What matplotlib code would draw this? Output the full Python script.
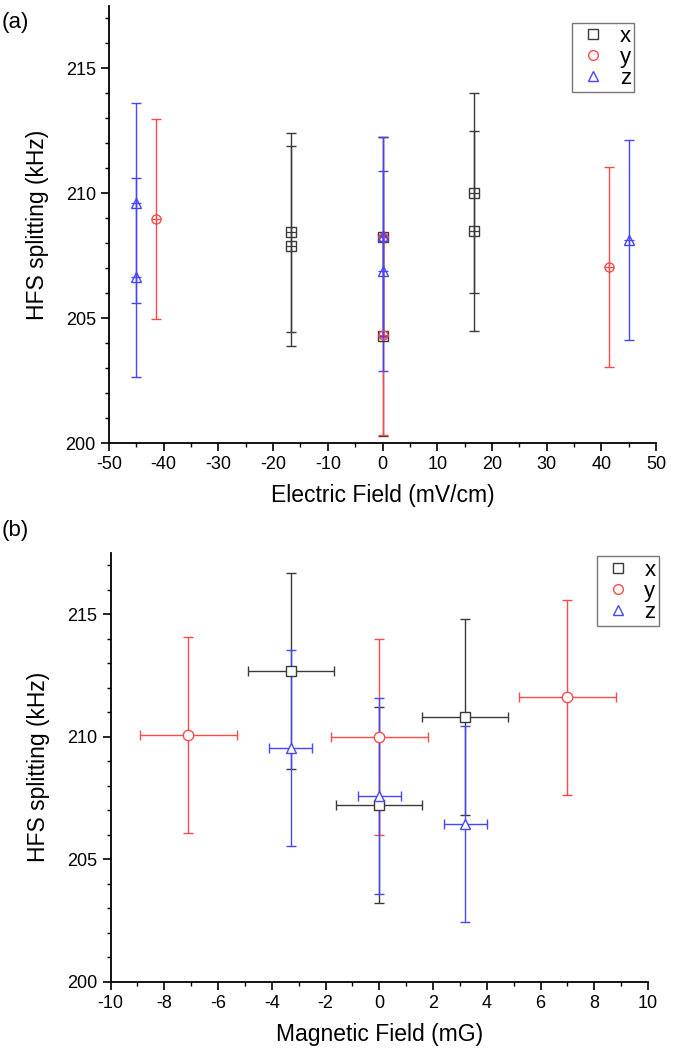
import matplotlib
matplotlib.use("Agg")
import matplotlib.pyplot as plt
from matplotlib.ticker import MultipleLocator
from matplotlib.lines import Line2D

plt.rcParams['font.family'] = ['Liberation Sans', 'DejaVu Sans']
plt.rcParams['axes.unicode_minus'] = False

# (a) electric field scan
ex_x = [-16.7, -16.7, 0, 0, 16.7, 16.7]
ex_y = [208.43, 207.89, 208.25, 204.30, 210.00, 208.49]
ey_x = [-41.4, 0, 0, 41.4]
ey_y = [208.97, 208.25, 204.33, 207.04]
ez_x = [-45, -45, 0, 0, 45]
ez_y = [209.60, 206.63, 208.27, 206.90, 208.13]
e_err = 4.0

# (b) magnetic field scan
bx_x = [-3.3, 0, 3.2]
bx_y = [212.68, 207.22, 210.81]
bx_xerr = [1.6, 1.6, 1.6]
by_x = [-7.1, 0, 7.0]
by_y = [210.06, 209.97, 211.60]
by_xerr = [1.8, 1.8, 1.8]
bz_x = [-3.3, 0, 3.2]
bz_y = [209.52, 207.57, 206.44]
bz_xerr = [0.8, 0.8, 0.8]
b_err = 4.0

C_X = '#3a3a3a'
C_Y = '#ff4a4a'
C_Z = '#4646ff'
labels = ['x', 'y', 'z']
markers = ['s', 'o', '^']
colors = [C_X, C_Y, C_Z]

fig = plt.figure(figsize=(6.85, 10.53), dpi=100)
ax1 = fig.add_axes([109/685, 1-443/1053, 547/685, 437/1053])
ax2 = fig.add_axes([110.5/685, 1-981.5/1053, 537.5/685, 428.5/1053])


def style(ax):
    for s in ['top', 'right']:
        ax.spines[s].set_visible(False)
    for s in ['left', 'bottom']:
        ax.spines[s].set_linewidth(1.3)
    ax.tick_params(which='major', direction='out', length=6, width=1.2,
                   labelsize=13, pad=3.5)
    ax.tick_params(which='minor', direction='out', length=3, width=1.0)
    ax.set_ylim(200, 217.5)
    ax.yaxis.set_major_locator(MultipleLocator(5))
    ax.yaxis.set_minor_locator(MultipleLocator(1))
    ax.set_ylabel('HFS splitting (kHz)', fontsize=16.5, labelpad=12)


def legend(ax, anchor):
    handles = [Line2D([], [], ls='none', marker=m, mfc='none', mec=c,
                      ms=7, mew=1.0) for m, c in zip(markers, colors)]
    lg = ax.legend(handles, labels, loc='upper right', bbox_to_anchor=anchor,
                   fontsize=16, frameon=True, fancybox=False,
                   handletextpad=0.4, borderpad=0.15, labelspacing=0.0,
                   handlelength=1.6, borderaxespad=0)
    lg.get_frame().set_edgecolor('#555555')
    lg.get_frame().set_linewidth(1.0)


# panel (a)
for xs, ys, m, c in [(ex_x, ex_y, 's', C_X), (ey_x, ey_y, 'o', C_Y),
                     (ez_x, ez_y, '^', C_Z)]:
    ax1.errorbar(xs, ys, yerr=e_err, fmt=m, color=c, mfc='none', mec=c,
                 ms=6.5, mew=1.0, elinewidth=1.0, capsize=3.5, capthick=1.0)
    ax1.plot(xs, ys, ls='none', marker='+', color=c, ms=6.5, mew=0.9)
style(ax1)
ax1.set_xlim(-50, 50)
ax1.xaxis.set_major_locator(MultipleLocator(10))
ax1.xaxis.set_minor_locator(MultipleLocator(5))
ax1.set_xlabel('Electric Field (mV/cm)', fontsize=16.5, labelpad=8)
legend(ax1, (0.96, 0.962))

# panel (b)
for xs, ys, xe, m, c in [(bx_x, bx_y, bx_xerr, 's', C_X),
                         (by_x, by_y, by_xerr, 'o', C_Y),
                         (bz_x, bz_y, bz_xerr, '^', C_Z)]:
    ax2.errorbar(xs, ys, yerr=b_err, xerr=xe, fmt=m, color=c, mfc='white',
                 mec=c, ms=7.5, mew=1.0, elinewidth=1.0, capsize=3.5,
                 capthick=1.0)
style(ax2)
ax2.set_xlim(-10, 10)
ax2.xaxis.set_major_locator(MultipleLocator(2))
ax2.xaxis.set_minor_locator(MultipleLocator(1))
ax2.set_xlabel('Magnetic Field (mG)', fontsize=16.5, labelpad=8)
legend(ax2, (1.02, 0.992))

fig.text(2/685, 1-28/1053, '(a)', fontsize=16)
fig.text(2/685, 1-536/1053, '(b)', fontsize=16)

fig.savefig('out.png', dpi=100)
